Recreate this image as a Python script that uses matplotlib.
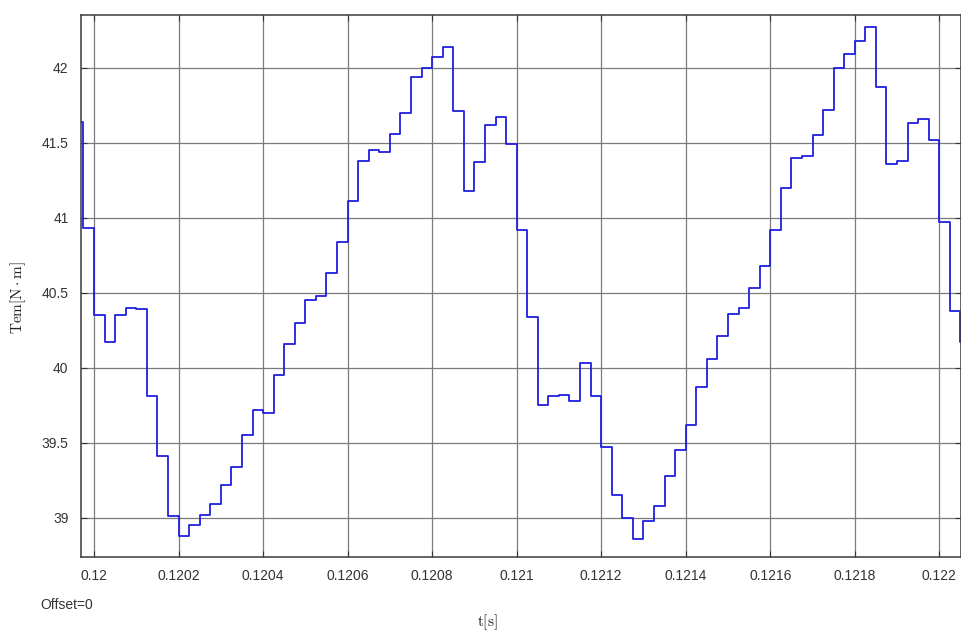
import numpy as np
import matplotlib
matplotlib.use("Agg")
import matplotlib.pyplot as plt

t_start = 0.11995
sample_period = 25e-6
tem = [41.64, 40.93, 40.35, 40.17, 40.35, 40.40, 40.39, 39.81, 39.41, 39.01,
       38.88, 38.95, 39.02, 39.09, 39.22, 39.34, 39.55, 39.72, 39.70, 39.95,
       40.16, 40.30, 40.45, 40.48, 40.63, 40.84, 41.11, 41.38, 41.45, 41.44,
       41.56, 41.70, 41.94, 42.00, 42.07, 42.14, 41.71, 41.18, 41.37, 41.62,
       41.67, 41.49, 40.92, 40.34, 39.75, 39.81, 39.82, 39.78, 40.03, 39.81,
       39.47, 39.15, 39.00, 38.86, 38.98, 39.08, 39.28, 39.45, 39.62, 39.87,
       40.06, 40.21, 40.36, 40.40, 40.53, 40.68, 40.92, 41.20, 41.40, 41.41,
       41.55, 41.72, 42.00, 42.09, 42.18, 42.27, 41.87, 41.36, 41.38, 41.63,
       41.66, 41.52, 40.97, 40.38, 40.17, 40.17]
t = t_start + sample_period * np.arange(len(tem))

x_ticks = [0.12, 0.1202, 0.1204, 0.1206, 0.1208, 0.121, 0.1212, 0.1214, 0.1216, 0.1218, 0.122]
x_labels = ["0.12", "0.1202", "0.1204", "0.1206", "0.1208", "0.121", "0.1212", "0.1214", "0.1216", "0.1218", "0.122"]
y_ticks = [39, 39.5, 40, 40.5, 41, 41.5, 42]
y_labels = ["39", "39.5", "40", "40.5", "41", "41.5", "42"]

plt.rcParams['font.family'] = ['Liberation Sans', 'DejaVu Sans']
plt.rcParams['mathtext.fontset'] = 'cm'

W, H = 962, 637
fig = plt.figure(figsize=(W / 100, H / 100), dpi=100)
ax = fig.add_axes([81 / W, 1 - 556.5 / H, (961 - 81) / W, (556.5 - 15) / H])

ax.plot(t, tem, drawstyle='steps-post', color='#1f1fe0', lw=1.3)

ax.set_xlim(0.1199692, 0.1220513)
ax.set_ylim(38.7433, 42.351)
ax.set_xticks(x_ticks)
ax.set_xticklabels(x_labels)
ax.set_yticks(y_ticks)
ax.set_yticklabels(y_labels)
ax.grid(True, color='#7a7a7a', lw=0.9)
ax.set_axisbelow(True)
ax.tick_params(direction='in', top=True, right=True, length=4, width=0.8,
               color='#333333', labelsize=10, labelcolor='#333333', pad=9)
for s in ax.spines.values():
    s.set_color('#3a3a3a')
    s.set_linewidth(1.1)

fig.text(18 / W, 1 - 297 / H, r'$\mathrm{Tem[N\cdot m]}$', rotation=90,
         ha='center', va='center', fontsize=11, color='#222222')
fig.text(487 / W, 1 - 622 / H, r'$\mathrm{t[s]}$', ha='center', va='center',
         fontsize=11, color='#222222')
fig.text(40 / W, 1 - 605 / H, 'Offset=0', ha='left', va='center',
         fontsize=10, color='#333333')

fig.savefig('out.png', dpi=100)
